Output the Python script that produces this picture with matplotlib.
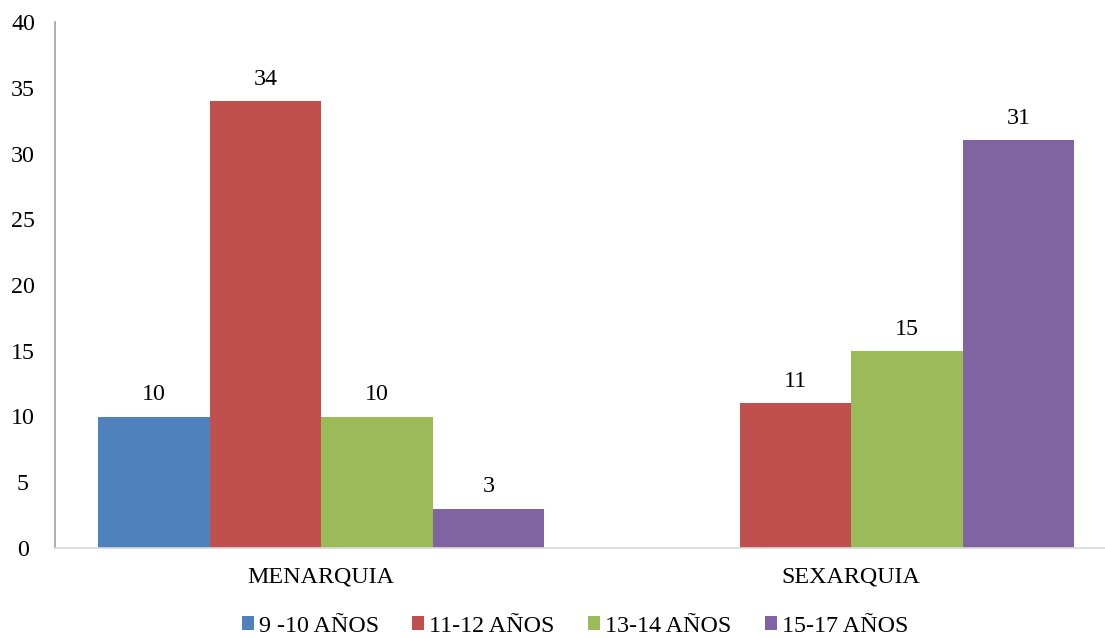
import numpy as np
import matplotlib.pyplot as plt
from matplotlib.patches import Patch

plt.rcParams['font.family'] = ['Liberation Serif', 'DejaVu Serif']

categories = ["MENARQUIA", "SEXARQUIA"]
series = ["9 -10 AÑOS", "11-12 AÑOS", "13-14 AÑOS", "15-17 AÑOS"]
values = [
    [10, None],
    [34, 11],
    [10, 15],
    [3, 31],
]
colors = ["#4f81bd", "#c0504d", "#9bbb59", "#8064a2"]
fs = 17.3

fig = plt.figure(figsize=(11.05, 6.38), dpi=100)
ax = fig.add_axes([55/1105, 90/638, 1050/1105, 526/638])

x = np.arange(len(categories))
width = 0.2104
for i, (name, vals, c) in enumerate(zip(series, values, colors)):
    offset = (i - 1.5) * width
    for xi, v in zip(x, vals):
        if v is None:
            continue
        ax.bar(xi + offset, v, width=width, color=c, linewidth=0)
        ax.annotate(str(v), (xi + offset, v), xytext=(0, 8),
                    textcoords="offset points", ha="center", va="bottom",
                    fontsize=fs)

ax.set_xlim(-0.502, 1.479)
ax.set_ylim(0, 40)
ax.set_yticks(range(0, 41, 5))
ax.set_xticks(x)
ax.set_xticklabels(categories)
ax.tick_params(axis="both", length=0, labelsize=fs)
ax.tick_params(axis="y", pad=23)
ax.tick_params(axis="x", pad=13)
for lbl in ax.get_yticklabels():
    lbl.set_horizontalalignment("center")

ax.spines["top"].set_visible(False)
ax.spines["right"].set_visible(False)
ax.spines["left"].set_color("#a0a0a0")
ax.spines["left"].set_linewidth(1.2)
ax.spines["bottom"].set_color("#d9d9d9")
ax.spines["bottom"].set_linewidth(1.2)

handles = [Patch(facecolor=c, label=s) for s, c in zip(series, colors)]
fig.legend(handles=handles, loc="center", bbox_to_anchor=(575/1105, 1 - 626/638),
           ncol=4, frameon=False, fontsize=fs, handlelength=0.5,
           handleheight=0.5, handletextpad=0.2, columnspacing=1.4)

fig.savefig("out.png", dpi=100, facecolor="white")
